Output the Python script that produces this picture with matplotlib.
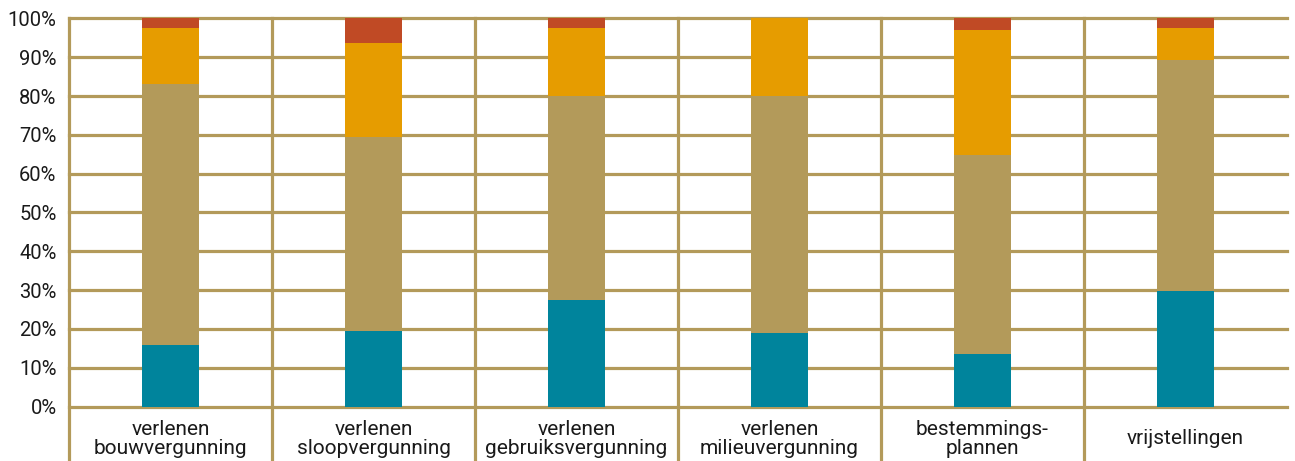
import matplotlib
matplotlib.use("Agg")
import matplotlib.pyplot as plt
from matplotlib import font_manager as fm
import numpy as np

categories = ["verlenen\nbouwvergunning", "verlenen\nsloopvergunning", "verlenen\ngebruiksvergunning",
              "verlenen\nmilieuvergunning", "bestemmings-\nplannen", "vrijstellingen"]
teal = [15.8, 19.5, 27.4, 19.0, 13.5, 29.8]
tan = [67.4, 50.0, 52.6, 61.0, 51.2, 59.5]
orange = [14.3, 24.2, 17.5, 20.0, 32.3, 8.2]
red = [2.5, 6.3, 2.5, 0.0, 3.0, 2.5]
yticks = [0, 10, 20, 30, 40, 50, 60, 70, 80, 90, 100]

series = [teal, tan, orange, red]
colors = ["#00849C", "#B39A5A", "#E69C00", "#C04A25"]
grid_c = "#B39A5A"

plt.rcParams["font.family"] = ["Roboto", "DejaVu Sans"]

W, H = 1295, 461
fig = plt.figure(figsize=(W / 100, H / 100), dpi=100)
left, right, top, zero = 69, 1287, 18.5, 406.5
ppu = (zero - top) / 100.0
ymin = -(H - zero) / ppu
ax = fig.add_axes([left / W, 0, (right - left) / W, (H - top) / H])
ax.set_xlim(-0.5, len(categories) - 0.5)
ax.set_ylim(ymin, 100)
for s in ax.spines.values():
    s.set_visible(False)

for y in yticks:
    ax.axhline(y, color=grid_c, lw=2.3, zorder=1, clip_on=False)
for i in range(len(categories)):
    ax.axvline(i - 0.5, color=grid_c, lw=2.3, zorder=1, clip_on=False)

x = np.arange(len(categories))
bottom = np.zeros(len(categories))
for vals, c in zip(series, colors):
    v = np.array(vals)
    ax.bar(x, v, bottom=bottom, width=0.28, color=c, zorder=3, linewidth=0)
    bottom += v

ax.set_yticks(yticks)
ax.set_yticklabels([f"{t}%" for t in yticks], fontsize=14.5, color="#1a1a1a")
ax.tick_params(axis="y", length=0, pad=9)
ax.set_xticks([])

for i, lab in enumerate(categories):
    ax.text(i, -8.3, lab, ha="center", va="center", fontsize=15, color="#1a1a1a",
            linespacing=1.0)

fig.savefig("out.png", dpi=100)
